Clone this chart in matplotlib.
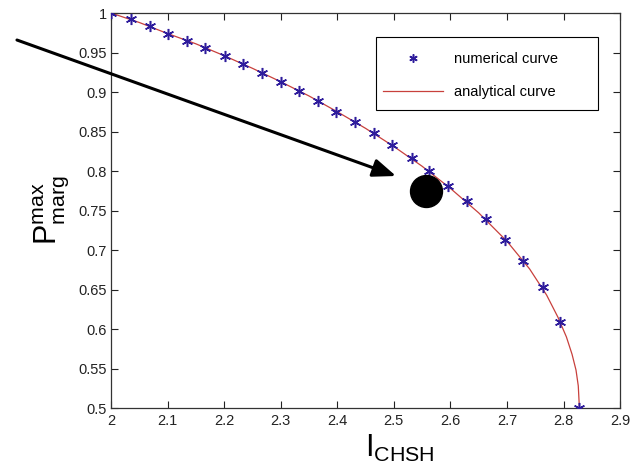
import matplotlib
matplotlib.use("Agg")
import matplotlib.pyplot as plt
from matplotlib.patches import Rectangle
import numpy as np

# numerical curve (markers)
num_I = [2.000, 2.035, 2.069, 2.101, 2.134, 2.167, 2.201, 2.234, 2.267, 2.300,
         2.332, 2.366, 2.398, 2.432, 2.465, 2.497, 2.532, 2.563, 2.596, 2.629,
         2.663, 2.697, 2.729, 2.763, 2.794, 2.828]
num_P = [1.000, 0.992, 0.9835, 0.974, 0.965, 0.956, 0.9456, 0.935, 0.924, 0.913,
         0.901, 0.889, 0.875, 0.862, 0.848, 0.833, 0.816, 0.800, 0.781, 0.762,
         0.739, 0.713, 0.686, 0.653, 0.609, 0.500]

# analytical curve (line)
ana_I = [2.000, 2.05, 2.10, 2.15, 2.20, 2.25, 2.30, 2.35, 2.40, 2.45, 2.50,
         2.55, 2.60, 2.65, 2.70, 2.74, 2.77, 2.79, 2.805, 2.815, 2.822, 2.826, 2.828]
ana_P = [1.000, 0.988, 0.974, 0.961, 0.946, 0.930, 0.913, 0.895, 0.875, 0.854, 0.831,
         0.806, 0.778, 0.747, 0.711, 0.676, 0.643, 0.615, 0.590, 0.568, 0.548, 0.528, 0.500]

x_ticks = [2.0, 2.1, 2.2, 2.3, 2.4, 2.5, 2.6, 2.7, 2.8, 2.9]
x_labels = ["2", "2.1", "2.2", "2.3", "2.4", "2.5", "2.6", "2.7", "2.8", "2.9"]
y_ticks = [0.5, 0.55, 0.6, 0.65, 0.7, 0.75, 0.8, 0.85, 0.9, 0.95, 1.0]
y_labels = ["0.5", "0.55", "0.6", "0.65", "0.7", "0.75", "0.8", "0.85", "0.9", "0.95", "1"]

# highlighted point
dot_I = [2.557]
dot_P = [0.7747]

plt.rcParams['font.family'] = ['Liberation Sans', 'DejaVu Sans']
plt.rcParams['mathtext.fontset'] = 'custom'
plt.rcParams['mathtext.rm'] = 'Liberation Sans'

fig = plt.figure(figsize=(6.38, 4.73), dpi=100)
ax = fig.add_axes([0.174, 0.1374, 0.798, 0.8351])

star = (6, 2, 0)
ax.plot(ana_I, ana_P, color='#c8403c', lw=0.9, label='analytical curve', zorder=2)
ax.plot(num_I, num_P, linestyle='none', marker=star, markersize=8,
        markeredgewidth=1.1, color='#2e1c9c', markeredgecolor='#2e1c9c',
        label='numerical curve', zorder=3)
ax.plot(dot_I, dot_P, linestyle='none', marker='o', markersize=23,
        color='black', zorder=4)

ax.set_xlim(2.0, 2.9)
ax.set_ylim(0.5, 1.0)
ax.set_xticks(x_ticks)
ax.set_xticklabels(x_labels)
ax.set_yticks(y_ticks)
ax.set_yticklabels(y_labels)
ax.tick_params(direction='in', top=True, right=True, length=5, width=0.8,
               labelsize=10.5, colors='#222222', pad=3)
ax.tick_params(axis='x', pad=4)
for s in ax.spines.values():
    s.set_color('#333333')
    s.set_linewidth(0.9)

# legend frame drawn as a box (MATLAB-style wide right padding)
ax.add_patch(Rectangle((0.521, 0.754), 0.436, 0.185, transform=ax.transAxes,
                       facecolor='white', edgecolor='black', lw=0.8, zorder=5))
handles, labels = ax.get_legend_handles_labels()
leg = ax.legend([handles[1], handles[0]], [labels[1], labels[0]],
                loc='center left', bbox_to_anchor=(0.534, 0.842),
                frameon=False, fontsize=10.5, handlelength=4.1, borderpad=0,
                labelspacing=1.32, handletextpad=0.8, borderaxespad=0,
                markerscale=0.75)
leg.set_zorder(6)

fig.text(0.08, 0.556, r'$\mathregular{P^{max}_{marg}}$', rotation=90,
         ha='center', va='center', fontsize=22)
fig.text(0.627, 0.052, r'$\mathregular{I_{CHSH}}$', ha='center', va='center',
         fontsize=22)

ax.annotate('', xy=(0.6207, 0.6279), xycoords='figure fraction',
            xytext=(0.0266, 0.9154), textcoords='figure fraction',
            arrowprops=dict(arrowstyle='-|>,head_length=1.4,head_width=0.55',
                            color='black', lw=2.2, shrinkA=0, shrinkB=0),
            annotation_clip=False, zorder=7)

fig.savefig('out.png', dpi=100)
